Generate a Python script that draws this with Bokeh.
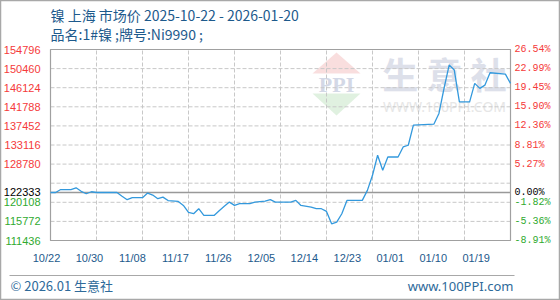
import pandas as pd
from bokeh.plotting import figure
from bokeh.models import Range1d, Label, PolyAnnotation, BoxAnnotation
from bokeh.core.properties import value
from bokeh.embed import file_html
from bokeh.resources import INLINE

# ---------------- data ----------------
title_text = "镍 上海 市场价 2025-10-22 - 2026-01-20"
subtitle_text = "品名:1#镍 ;牌号:Ni9990 ;"
footer_left = "© 2026.01 生意社"
footer_right = "www.100PPI.com"

start_date = "2025-10-22"
end_date = "2026-01-20"

dates = ["2025-10-22", "2025-10-23", "2025-10-24", "2025-10-26", "2025-10-27", "2025-10-28",
         "2025-10-29", "2025-10-30", "2025-10-31", "2025-11-04", "2025-11-05", "2025-11-06",
         "2025-11-07", "2025-11-09", "2025-11-10", "2025-11-11", "2025-11-12", "2025-11-13",
         "2025-11-14", "2025-11-16", "2025-11-17", "2025-11-18", "2025-11-19", "2025-11-20",
         "2025-11-21", "2025-11-23", "2025-11-24", "2025-11-25", "2025-11-26", "2025-11-27",
         "2025-11-28", "2025-11-30", "2025-12-01", "2025-12-03", "2025-12-04", "2025-12-05",
         "2025-12-08", "2025-12-09", "2025-12-10", "2025-12-12", "2025-12-13", "2025-12-14",
         "2025-12-15", "2025-12-16", "2025-12-17", "2025-12-18", "2025-12-19", "2025-12-22",
         "2025-12-23", "2025-12-24", "2025-12-25", "2025-12-26", "2025-12-27", "2025-12-29",
         "2025-12-30", "2025-12-31", "2026-01-01", "2026-01-05", "2026-01-06", "2026-01-07",
         "2026-01-08", "2026-01-09", "2026-01-10", "2026-01-12", "2026-01-13", "2026-01-14",
         "2026-01-15", "2026-01-16", "2026-01-19", "2026-01-20"]
prices = [122333, 122333, 123000, 123000, 123400, 122600,
          122050, 122500, 122333, 122333, 121500, 120700,
          121150, 121150, 122200, 121750, 120930, 121290,
          120500, 120312, 119400, 117800, 117513, 118650,
          117126, 117126, 118200, 119200, 120153, 119400,
          119789, 119789, 120153, 120381, 120700, 120153,
          120153, 120540, 119400, 119015, 118650, 118650,
          118036, 115237, 115600, 117513, 120540, 120540,
          122816, 126230, 130782, 127368, 130395, 130395,
          132671, 133058, 137610, 137838, 140273, 146000,
          151266, 150128, 142913, 142913, 147101, 145963,
          146714, 149513, 149218, 147101]

base_price = 122333
y_label_values = [154796, 150460, 146124, 141788, 137452, 133116, 128780,
                  122333, 120108, 115772, 111436]
y_grid_values = [111436, 115772, 120108, 124444, 128780, 133116, 137452,
                 141788, 146124, 150460, 154796]
x_labels = ["10/22", "10/30", "11/08", "11/17", "11/26", "12/05",
            "12/14", "12/23", "01/01", "01/10", "01/19"]
grid_day_step = 9

# ---------------- layout (pixels) ----------------
W, H = 560, 300
PL, PR, PT, PB = 50, 510, 49, 240     # plot area edges
LAB_X0, LAB_STEP = 46, 42.97          # date label centres

def sy(y_top):
    return H - y_top

# ---------------- derived ----------------
t0 = pd.Timestamp(start_date)
x_days = [(pd.Timestamp(d) - t0).days for d in dates]
span_days = (pd.Timestamp(end_date) - t0).days
y_min, y_max = min(y_grid_values), max(y_grid_values)

kx = (PR - PL) / span_days
ky = (PB - PT) / (y_max - y_min)
x_range = Range1d(-PL / kx, span_days + (W - PR) / kx)
y_range = Range1d(y_min - (H - PB) / ky, y_max + PT / ky)

BLUE_TXT = "#1d5a8c"
RED = "#f53a3a"
GREEN = "#2faa2f"
GRID = "#c8c8c8"

p = figure(width=W, height=H, output_backend="svg", toolbar_location=None,
           x_range=x_range, y_range=y_range,
           x_axis_location=None, y_axis_location=None,
           min_border=0)
p.xgrid.visible = False
p.ygrid.visible = False
p.background_fill_color = "white"
p.border_fill_color = "white"
p.outline_line_color = "#a8a8a8"
p.outline_line_width = 1.5

p.extra_x_ranges = {"lab": Range1d(-LAB_X0 / LAB_STEP, (W - LAB_X0) / LAB_STEP)}

# watermark
p.add_layout(PolyAnnotation(xs=[312, 360, 336], ys=[sy(73), sy(73), sy(52)], xs_units="screen",
                            ys_units="screen", fill_color="#f7d6d6", fill_alpha=0.8, line_alpha=0,
                            level="image"))
p.add_layout(PolyAnnotation(xs=[312, 360, 336], ys=[sy(93), sy(93), sy(115)], xs_units="screen",
                            ys_units="screen", fill_color="#d8eed8", fill_alpha=0.8, line_alpha=0,
                            level="image"))
p.add_layout(Label(x=336, y=sy(84), x_units="screen", y_units="screen", text="PPI",
                   text_font="Liberation Serif", text_font_style="bold", text_font_size="22px",
                   text_color="#d3d8e6", text_align="center", text_baseline="middle", level="image"))
p.add_layout(Label(x=444, y=sy(72), x_units="screen", y_units="screen", text="生 意 社",
                   text_font="Noto Sans CJK SC", text_font_size="36px", text_font_style="bold",
                   text_color="#dde0ea", text_align="center", text_baseline="middle", level="image"))
p.add_layout(Label(x=444, y=sy(106), x_units="screen", y_units="screen", text="WWW.100PPI.COM",
                   text_font="Noto Sans", text_font_size="14px",
                   text_color="#e6e6e6", text_align="center", text_baseline="middle", level="image"))

# grid lines
grid_days = list(range(0, span_days + 1, grid_day_step))
p.segment(x0=grid_days, y0=[y_min] * len(grid_days), x1=grid_days, y1=[y_max] * len(grid_days),
          line_color=GRID, line_dash="4 2", line_width=1)
p.segment(x0=[0] * len(y_grid_values), y0=y_grid_values, x1=[span_days] * len(y_grid_values),
          y1=y_grid_values, line_color=GRID, line_dash="4 2", line_width=1)
p.segment(x0=[0], y0=[base_price], x1=[span_days], y1=[base_price], line_color="#999999",
          line_width=1.5)
p.quad(left=[0], right=[span_days], bottom=[y_min], top=[y_max], fill_alpha=0,
       line_color="#a0a0a0", line_width=1.2)

# series
p.line(x_days, prices, line_color="#3399dd", line_width=1.3)

# y labels
cols = [RED if v > base_price else ("#000000" if v == base_price else GREEN) for v in y_label_values]
pcts = [f"{(v - base_price) / base_price * 100:.2f}%" for v in y_label_values]
n = len(y_label_values)
p.text(x=[0] * n, y=y_label_values, text=[str(v) for v in y_label_values], x_offset=-10,
       text_align="right", text_baseline="middle", text_font=value("Liberation Sans"),
       text_font_size=value("11px"), text_color=cols)
p.text(x=[span_days] * n, y=y_label_values, text=pcts, x_offset=4,
       text_align="left", text_baseline="middle", text_font=value("Liberation Mono"),
       text_font_size=value("10px"), text_color=cols)

# x labels
p.text(x=list(range(len(x_labels))), y=[y_min] * len(x_labels), text=x_labels, x_range_name="lab",
       y_offset=17, text_align="center", text_baseline="middle", text_font=value("Liberation Sans"),
       text_font_size=value("11px"), text_color=BLUE_TXT)

# titles
p.add_layout(Label(x=50, y=sy(14), x_units="screen", y_units="screen", text=title_text,
                   text_font="Noto Sans CJK SC", text_font_size="14px", text_color=BLUE_TXT,
                   text_baseline="middle"))
p.add_layout(Label(x=50, y=sy(33), x_units="screen", y_units="screen", text=subtitle_text,
                   text_font="Noto Sans CJK SC", text_font_size="14px", text_color=BLUE_TXT,
                   text_baseline="middle"))

# footer
p.add_layout(BoxAnnotation(left=9, right=514, top=sy(274.5), bottom=sy(275.5), left_units="screen",
                           right_units="screen", top_units="screen", bottom_units="screen",
                           fill_color="#a8a8a8", fill_alpha=1, line_alpha=0))
p.add_layout(Label(x=10, y=sy(285), x_units="screen", y_units="screen", text=footer_left,
                   text_font="Noto Sans CJK SC", text_font_size="13px", text_color="#2e6a9a",
                   text_baseline="middle"))
p.add_layout(Label(x=513, y=sy(285), x_units="screen", y_units="screen", text=footer_right,
                   text_font="Noto Sans", text_font_size="13px", text_color="#2e6a9a",
                   text_align="right", text_baseline="middle"))

open("out.html", "w").write(file_html(p, INLINE))
